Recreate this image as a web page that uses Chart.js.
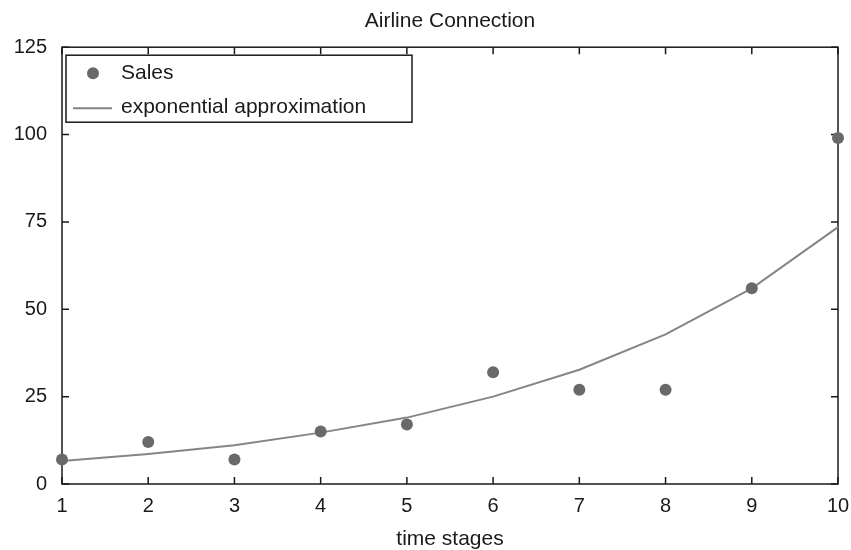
<!DOCTYPE html>
<html>
<head>
<meta charset="utf-8">
<script src="https://cdn.jsdelivr.net/npm/chart.js@4.4.1/dist/chart.umd.min.js"></script>
<style>
  html, body { margin: 0; padding: 0; background: #ffffff; }
  #wrap { width: 851px; height: 550px; }
</style>
</head>
<body>
<div id="wrap"><canvas id="c" width="851" height="550"></canvas></div>
<script>
// Airline connection sales per time stage, with an exponential trend fitted to them
const timeStages = [1, 2, 3, 4, 5, 6, 7, 8, 9, 10];
const sales = [7, 12, 7, 15, 17, 32, 27, 27, 56, 99];
const exponentialFit = [6.6, 8.6, 11.1, 14.7, 19.0, 25.0, 32.7, 42.8, 56.0, 73.5];
const yTickValues = [0, 25, 50, 75, 100, 125];

const FONT = 'Liberation Sans, Arial, Helvetica, sans-serif';
const INK = '#1a1a1a';
const POINT_COLOR = '#696969';
const LINE_COLOR = '#858585';

// Boxed frame with inward tick marks on all four sides
const framePlugin = {
  id: 'frame',
  beforeDatasetsDraw(chart) {
    const { ctx, chartArea: a, scales: { x, y } } = chart;
    const len = 7;
    ctx.save();
    ctx.strokeStyle = INK;
    ctx.lineWidth = 1.5;
    ctx.beginPath();
    x.ticks.forEach(t => {
      const px = x.getPixelForValue(t.value);
      ctx.moveTo(px, a.bottom); ctx.lineTo(px, a.bottom - len);
      ctx.moveTo(px, a.top); ctx.lineTo(px, a.top + len);
    });
    y.ticks.forEach(t => {
      const py = y.getPixelForValue(t.value);
      ctx.moveTo(a.left, py); ctx.lineTo(a.left + len, py);
      ctx.moveTo(a.right, py); ctx.lineTo(a.right - len, py);
    });
    ctx.stroke();
    ctx.strokeRect(a.left, a.top, a.right - a.left, a.bottom - a.top);
    ctx.restore();
  }
};

// Boxed legend in the upper-left corner of the plot
const boxLegendPlugin = {
  id: 'boxLegend',
  afterDatasetsDraw(chart) {
    const { ctx, chartArea: a } = chart;
    const left = a.left + 4, top = a.top + 8, w = 346, h = 67;
    ctx.save();
    ctx.fillStyle = '#ffffff';
    ctx.fillRect(left, top, w, h);
    ctx.strokeStyle = INK;
    ctx.lineWidth = 1.5;
    ctx.strokeRect(left, top, w, h);

    const ds = chart.data.datasets;
    ctx.font = '21px ' + FONT;
    ctx.textBaseline = 'middle';
    ctx.textAlign = 'left';

    // scatter entry
    const y1 = top + 18;
    ctx.fillStyle = ds[0].backgroundColor;
    ctx.beginPath();
    ctx.arc(left + 27, y1, 6, 0, Math.PI * 2);
    ctx.fill();
    ctx.fillStyle = INK;
    ctx.fillText(ds[0].label, left + 55, y1);

    // line entry
    const y2 = top + 52;
    ctx.strokeStyle = ds[1].borderColor;
    ctx.lineWidth = ds[1].borderWidth;
    ctx.beginPath();
    ctx.moveTo(left + 7, y2 + 1);
    ctx.lineTo(left + 46, y2 + 1);
    ctx.stroke();
    ctx.fillStyle = INK;
    ctx.fillText(ds[1].label, left + 55, y2);
    ctx.restore();
  }
};

new Chart(document.getElementById('c'), {
  type: 'line',
  data: {
    datasets: [
      {
        label: 'Sales',
        data: timeStages.map((t, i) => ({ x: t, y: sales[i] })),
        showLine: false,
        backgroundColor: POINT_COLOR,
        borderColor: POINT_COLOR,
        pointRadius: 6,
        pointBorderWidth: 0,
        clip: false,
        order: 0
      },
      {
        label: 'exponential approximation',
        data: timeStages.map((t, i) => ({ x: t, y: exponentialFit[i] })),
        borderColor: LINE_COLOR,
        backgroundColor: LINE_COLOR,
        borderWidth: 2,
        pointRadius: 0,
        tension: 0,
        fill: false,
        clip: false,
        order: 1
      }
    ]
  },
  options: {
    responsive: false,
    animation: false,
    layout: { padding: { top: 0, right: 13, bottom: 0, left: 0 } },
    plugins: {
      legend: { display: false },
      tooltip: { enabled: false },
      title: {
        display: true,
        fullSize: false,
        text: 'Airline Connection',
        color: INK,
        font: { family: FONT, size: 21, weight: 'normal' },
        padding: { top: 9, bottom: 13 }
      }
    },
    scales: {
      x: {
        type: 'linear',
        min: 1,
        max: 10,
        afterFit(s) { s.height = 66; s.paddingLeft = 0; s.paddingRight = 0; },
        afterBuildTicks(s) { s.ticks = timeStages.map(v => ({ value: v })); },
        grid: { display: false, drawTicks: false },
        border: { display: false },
        ticks: {
          color: INK,
          padding: 10,
          font: { family: FONT, size: 20 }
        },
        title: {
          display: true,
          text: 'time stages',
          color: INK,
          font: { family: FONT, size: 21 },
          padding: { top: 0, bottom: -2 }
        }
      },
      y: {
        type: 'linear',
        min: 0,
        max: 125,
        afterFit(s) { s.width = 62; s.paddingTop = 0; s.paddingBottom = 0; },
        afterBuildTicks(s) { s.ticks = yTickValues.map(v => ({ value: v })); },
        grid: { display: false, drawTicks: false },
        border: { display: false },
        ticks: {
          color: INK,
          padding: 15,
          font: { family: FONT, size: 20 }
        }
      }
    }
  },
  plugins: [framePlugin, boxLegendPlugin]
});
</script>
</body>
</html>
